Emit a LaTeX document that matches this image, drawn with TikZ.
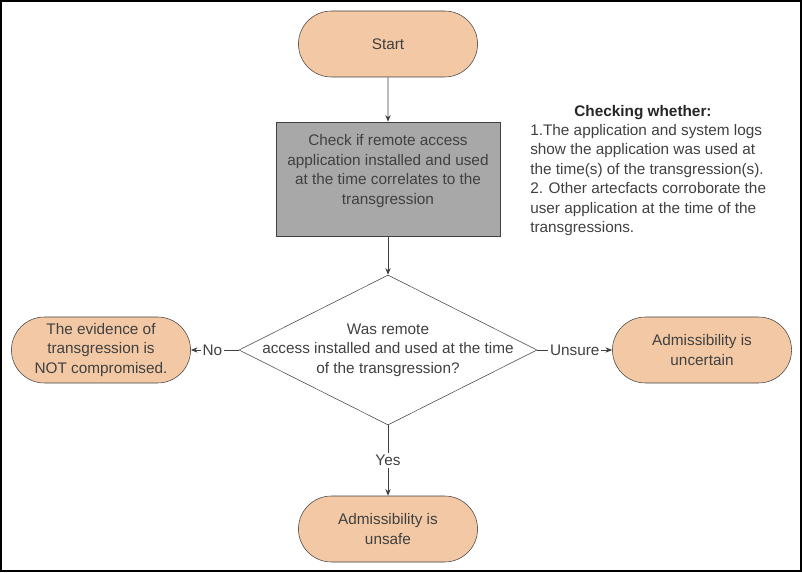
\documentclass[tikz,border=0pt]{standalone}
\usepackage{fontspec}
\setmainfont{Liberation Sans}
\usepackage{tikz}
\usetikzlibrary{positioning, shapes.geometric, shapes.misc, arrows.meta}
\definecolor{peach}{HTML}{F3C9A5}
\definecolor{boxgray}{HTML}{A8A8A8}
\definecolor{ink}{HTML}{404040}
\tikzstyle{terminal} = [rounded rectangle, draw=ink, fill=peach, text=ink, minimum width=141pt, minimum height=49.5pt, align=center]
\tikzstyle{process} = [rectangle, draw=ink, fill=boxgray, text=ink, minimum width=168pt, minimum height=85.5pt, align=center]
\tikzstyle{decision} = [diamond, draw=ink, minimum width=223.5pt, minimum height=112.5pt, inner sep=0pt]
\tikzstyle{arrow} = [draw=ink, line width=0.6pt, -{Stealth[length=5pt,width=4pt]}]
\tikzstyle{edgelabel} = [fill=white, text=ink, inner sep=1.5pt]

\begin{document}
\begin{tikzpicture}[x=0.75pt, y=-0.75pt, every node/.style={font=\fontsize{11.5}{14.6}\selectfont}]
  \useasboundingbox (0,0) rectangle (802,573);
  \draw[line width=1.5pt] (1,1) rectangle (800.5,571);

  % Flow
  \node[terminal] (start) at (388,44) {Start};
  \node[process, label={[align=center, text=ink, yshift=6pt]center:Check if remote access\\application installed and used\\at the time correlates to the\\transgression}] (proc) at (388,179) {};
  \node[decision, label={[align=center, text=ink]center:Was remote\\access installed and used at the time\\of the transgression?}] (check) at (388,350) {};

  % Outcomes
  \node[terminal] (nocomp) at (101,350) {The evidence of\\transgression is\\NOT compromised.};
  \node[terminal] (uncertain) at (702,350) {Admissibility is\\uncertain};
  \node[terminal] (unsafe) at (388,529) {Admissibility is\\unsafe};

  % Note
  \node[font=\bfseries\fontsize{11.5}{14.6}\selectfont, text=black!85] (notetitle) at (643,113) {Checking whether:};
  \node[anchor=north west, inner sep=0pt, align=left, text=ink] (notebody) at (530,124) {1.The application and system logs\\show the application was used at\\the time(s) of the transgression(s).\\2. Other artecfacts corroborate the\\user application at the time of the\\transgressions.};

  % Arrows
  \draw[arrow] (start) -- (proc);
  \draw[arrow] (proc) -- (check);
  \draw[arrow] (check.west) -- node[edgelabel, pos=0.55] {No} (nocomp.east);
  \draw[arrow] (check.east) -- node[edgelabel] {Unsure} (uncertain.west);
  \draw[arrow] (check.south) -- node[edgelabel] {Yes} (unsafe.north);
\end{tikzpicture}
\end{document}
